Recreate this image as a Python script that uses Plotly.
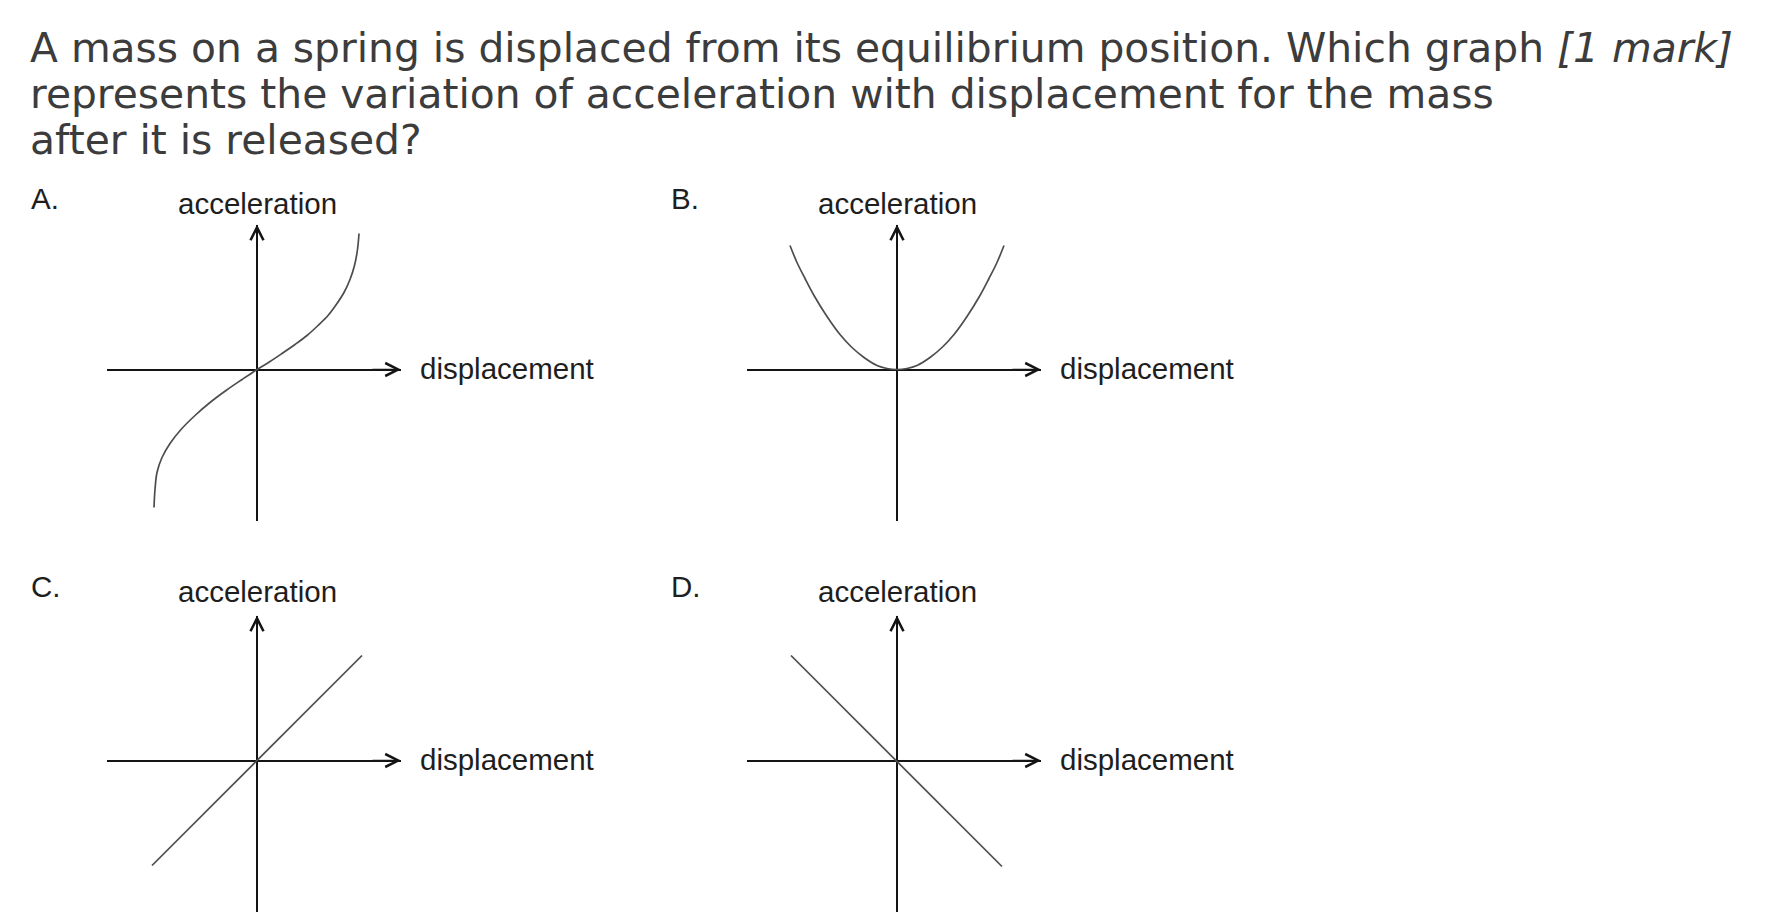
import plotly.graph_objects as go

W, H = 1766, 922

# ---------------- data (arbitrary units) ----------------
question_lines = [
    "A mass on a spring is displaced from its equilibrium position. Which graph <i>[1 mark]</i>",
    "represents the variation of acceleration with displacement for the mass",
    "after it is released?",
]
panel_letters = ["A.", "B.", "C.", "D."]
y_label = "acceleration"
x_label = "displacement"

a_disp = [-1.03, -1.02, -1.00, -0.95, -0.87, -0.76, -0.62, -0.47, -0.31, -0.15, 0.0,
          0.13, 0.25, 0.38, 0.50, 0.61, 0.71, 0.80, 0.87, 0.93, 0.975, 1.005, 1.02]
a_acc = [-1.38, -1.20, -1.03, -0.88, -0.74, -0.60, -0.46, -0.33, -0.21, -0.10, 0.0,
         0.08, 0.16, 0.25, 0.34, 0.44, 0.54, 0.66, 0.77, 0.90, 1.04, 1.20, 1.36]

b_disp = [-1.07, -1.00, -0.92, -0.83, -0.70, -0.57, -0.45, -0.33, -0.20, -0.10, 0.0,
          0.10, 0.20, 0.33, 0.45, 0.57, 0.70, 0.83, 0.92, 1.00, 1.07]
b_acc = [1.24, 1.07, 0.91, 0.74, 0.53, 0.35, 0.22, 0.12, 0.04, 0.01, 0.0,
         0.01, 0.04, 0.12, 0.22, 0.35, 0.53, 0.74, 0.91, 1.07, 1.24]

c_disp = [-1.05, 1.05]
c_acc = [-1.05, 1.05]

d_disp = [-1.06, 1.05]
d_acc = [1.05, -1.06]

curves = [(a_disp, a_acc), (b_disp, b_acc), (c_disp, c_acc), (d_disp, d_acc)]

# ---------------- layout geometry (pixels) ----------------
origins = [(257, 369.5), (897, 369.5), (257, 760.5), (897, 760.5)]
acc_label_dy = [166, 166, 169.5, 169.5]
letter_dy = [171, 171, 174.5, 174.5]
PX_PER_UNIT = 100.0
LEFT, RIGHT, UP, DOWN = 150, 144, 145, 151.5

AXIS_COLOR = "#141414"
CURVE_COLOR = "#4d4d4d"
TEXT_COLOR = "#1e1e1e"
Q_COLOR = "#3c3c3c"
LABEL_FONT = "Liberation Sans, Arial, sans-serif"
LABEL_SIZE = 29.5

fig = go.Figure()
annotations = []

for i, ((ox, oy), (xs, ys), letter) in enumerate(zip(origins, curves, panel_letters)):
    n = "" if i == 0 else str(i + 1)
    xa = "xaxis" + n
    ya = "yaxis" + n
    xref = "x" + n
    yref = "y" + n

    fig.add_trace(go.Scatter(
        x=xs, y=ys, mode="lines",
        line=dict(color=CURVE_COLOR, width=1.7, shape="spline", smoothing=1.0),
        xaxis=xref, yaxis=yref, hoverinfo="skip", showlegend=False,
    ))

    xr = [-LEFT / PX_PER_UNIT, RIGHT / PX_PER_UNIT]
    yr = [-DOWN / PX_PER_UNIT, UP / PX_PER_UNIT]
    common = dict(showgrid=False, showticklabels=False, ticks="", showline=False,
                  zeroline=True, zerolinecolor=AXIS_COLOR, zerolinewidth=2,
                  fixedrange=True)
    fig.layout[xa] = dict(domain=[(ox - LEFT) / W, (ox + RIGHT) / W], range=xr,
                          anchor=yref, **common)
    fig.layout[ya] = dict(domain=[1 - (oy + DOWN) / H, 1 - (oy - UP) / H], range=yr,
                          anchor=xref, **common)

    # arrow heads on the axes
    annotations.append(dict(x=xr[1], y=0, xref=xref, yref=yref, text="", showarrow=True,
                            ax=-30, ay=0, arrowhead=5, arrowsize=1.7, arrowwidth=1.5,
                            arrowcolor=AXIS_COLOR))
    annotations.append(dict(x=0, y=yr[1], xref=xref, yref=yref, text="", showarrow=True,
                            ax=0, ay=30, arrowhead=5, arrowsize=1.7, arrowwidth=1.5,
                            arrowcolor=AXIS_COLOR))

    # axis labels
    annotations.append(dict(x=ox / W, y=1 - (oy - acc_label_dy[i]) / H, xref="paper", yref="paper",
                            text=y_label, showarrow=False, xanchor="center", yanchor="middle",
                            font=dict(family=LABEL_FONT, size=LABEL_SIZE, color=TEXT_COLOR)))
    annotations.append(dict(x=(ox + 160.5) / W, y=1 - (oy - 1) / H, xref="paper", yref="paper",
                            text=x_label, showarrow=False, xanchor="left", yanchor="middle",
                            font=dict(family=LABEL_FONT, size=LABEL_SIZE, color=TEXT_COLOR)))
    # panel letter
    annotations.append(dict(x=(ox - 228) / W, y=1 - (oy - letter_dy[i]) / H, xref="paper", yref="paper",
                            text=letter, showarrow=False, xanchor="left", yanchor="middle",
                            font=dict(family=LABEL_FONT, size=LABEL_SIZE, color=TEXT_COLOR)))

# question text
q_centers = [48, 94, 140]
for line, cy in zip(question_lines, q_centers):
    annotations.append(dict(x=28 / W, y=1 - cy / H, xref="paper", yref="paper",
                            text=line, showarrow=False, xanchor="left", yanchor="middle",
                            font=dict(family="DejaVu Sans", size=40.8, color=Q_COLOR)))

fig.update_layout(
    width=W, height=H, autosize=False,
    margin=dict(l=0, r=0, t=0, b=0, pad=0),
    paper_bgcolor="white", plot_bgcolor="white",
    annotations=annotations,
    showlegend=False,
)

fig.write_html("out.html", config={"displayModeBar": False},
               post_script="document.body.style.margin='0';document.body.style.overflow='hidden';")
